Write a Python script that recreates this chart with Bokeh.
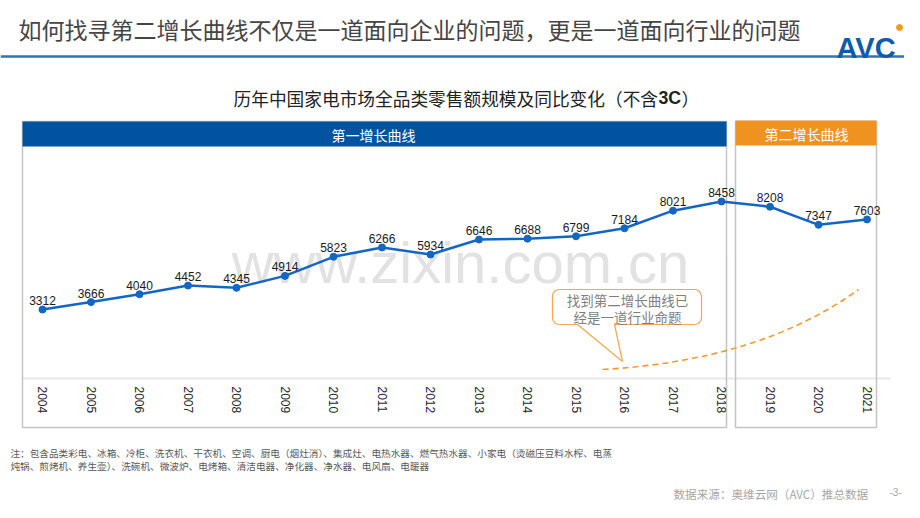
import math
from bokeh.plotting import figure
from bokeh.models import Range1d
from bokeh.core.properties import value
from bokeh.embed import file_html
from bokeh.resources import INLINE

# ---------------- data ----------------
years = [2004, 2005, 2006, 2007, 2008, 2009, 2010, 2011, 2012,
         2013, 2014, 2015, 2016, 2017, 2018, 2019, 2020, 2021]
sales = [3312, 3666, 4040, 4452, 4345, 4914, 5823, 6266, 5934,
         6646, 6688, 6799, 7184, 8021, 8458, 8208, 7347, 7603]
year_labels = [str(y) for y in years]

page_title = "如何找寻第二增长曲线不仅是一道面向企业的问题，更是一道面向行业的问题"
chart_title_a = "历年中国家电市场全品类零售额规模及同比变化（不含"
chart_title_b = "3C"
chart_title_c = "）"
band1_label = "第一增长曲线"
band2_label = "第二增长曲线"
callout_lines = ["找到第二增长曲线已", "经是一道行业命题"]
note_lines = [
    "注：包含品类彩电、冰箱、冷柜、洗衣机、干衣机、空调、厨电（烟灶消）、集成灶、电热水器、燃气热水器、小家电（烫磁压豆料水榨、电蒸",
    "炖锅、煎烤机、养生壶）、洗碗机、微波炉、电烤箱、清洁电器、净化器、净水器、电风扇、电暖器",
]
source_text = "数据来源：奥维云网（AVC）推总数据"
page_no = "-3-"
watermark = "www.zixin.com.cn"

# ---------------- geometry (page pixels -> data) ----------------
W, H = 904, 502
ORIGIN = 0
X_REF_PX, PX_PER_YEAR = 42.0, 48.5          # 2004 sits at page x=42
Y_REF_PX, PX_PER_UNIT = 309.0, 108.0 / 5146  # 3312 sits at page y=309


def fx(xp):
    return years[0] + (xp - X_REF_PX) / PX_PER_YEAR


def fy(yp):
    return sales[0] + (Y_REF_PX - yp) / PX_PER_UNIT


x_range = Range1d(fx(ORIGIN), fx(ORIGIN + W))
y_range = Range1d(fy(ORIGIN + H), fy(ORIGIN))

p = figure(width=W, height=H, x_range=x_range, y_range=y_range,
           x_axis_type=None, y_axis_type=None, min_border=0,
           output_backend="svg", toolbar_location=None)
p.grid.visible = False
p.outline_line_color = None
p.background_fill_color = "white"
p.border_fill_color = "white"

CJK = value("Noto Sans CJK SC")
LAT = value("Liberation Sans")

# page title
p.text(x=[fx(18)], y=[fy(28)], text=[page_title], text_font=CJK,
       text_font_size=value("23px"), text_color="#454545",
       text_align="left", text_baseline="middle")
p.segment(x0=[fx(0)], y0=[fy(56)], x1=[fx(920)], y1=[fy(56)],
          line_color="#2e72b8", line_width=2.5)

# logo
p.text(x=[fx(836)], y=[fy(47)], text=["AVC"], text_font=LAT,
       text_font_style="bold", text_font_size=value("29px"),
       text_color="#0b5cad", text_align="left", text_baseline="alphabetic")
p.scatter(x=[fx(899)], y=[fy(27)], size=6, color="#f39c1f")

# chart title
p.text(x=[fx(233)], y=[fy(97)], text=[chart_title_a], text_font=CJK,
       text_font_size=value("17.7px"), text_color="#222222",
       text_align="left", text_baseline="middle")
p.text(x=[fx(658)], y=[fy(97)], text=[chart_title_b], text_font=LAT,
       text_font_style="bold", text_font_size=value("17.7px"),
       text_color="#222222", text_align="left", text_baseline="middle")
p.text(x=[fx(681)], y=[fy(97)], text=[chart_title_c], text_font=CJK,
       text_font_size=value("17.7px"), text_color="#222222",
       text_align="left", text_baseline="middle")

# watermark
p.text(x=[fx(460)], y=[fy(262)], text=[watermark], text_font=LAT,
       text_font_size=value("58px"), text_color="#e2e2e2",
       text_align="center", text_baseline="alphabetic")

# baseline of the x category area
p.segment(x0=[fx(22)], y0=[fy(378)], x1=[fx(890)], y1=[fy(378)],
          line_color="#e8e8e8", line_width=2)

# frames
p.quad(left=[fx(22), fx(735)], right=[fx(726), fx(876)],
       top=[fy(121), fy(121)], bottom=[fy(427), fy(427)],
       fill_color=None, line_color="#c4c4c4", line_width=1.5)
# bands
p.quad(left=[fx(22)], right=[fx(726)], top=[fy(121)], bottom=[fy(146)],
       fill_color="#02539f", line_color=None)
p.quad(left=[fx(735)], right=[fx(876)], top=[fy(120)], bottom=[fy(145)],
       fill_color="#f0921f", line_color=None)
p.text(x=[fx(373), fx(806)], y=[fy(134), fy(133)],
       text=[band1_label, band2_label], text_font=CJK,
       text_font_size=value("14px"), text_color="white",
       text_align="center", text_baseline="middle")

# dashed "second curve"
p.quadratic(x0=[fx(602)], y0=[fy(369)], x1=[fx(858)], y1=[fy(289)],
            cx=[fx(760)], cy=[fy(360)], line_color="#f39a33",
            line_width=1.6, line_dash="6 4")

# callout bubble
L, R, T, B, r = 552, 701, 289, 324, 7
pts = []


def arc(cx, cy, a0, a1, n=6):
    for i in range(n + 1):
        a = math.radians(a0 + (a1 - a0) * i / n)
        pts.append((cx + r * math.cos(a), cy + r * math.sin(a)))


arc(L + r, T + r, 180, 270)
arc(R - r, T + r, 270, 360)
arc(R - r, B - r, 0, 90)
pts += [(614, B), (622, 361), (577, B)]
arc(L + r, B - r, 90, 180)
p.patch(x=[fx(a) for a, b in pts], y=[fy(b) for a, b in pts],
        fill_color="white", line_color="#f4a74f", line_width=1.2)
p.text(x=[fx(627), fx(627)], y=[fy(299), fy(316)], text=callout_lines,
       text_font=CJK, text_font_size=value("13.5px"), text_color="#7f7f7f",
       text_align="center", text_baseline="middle")

# data line
p.line(x=years, y=sales, line_color="#1466c4", line_width=2.5)
p.scatter(x=years, y=sales, size=7, color="#1466c4")
p.text(x=years, y=sales, text=[str(v) for v in sales], text_font=LAT,
       text_font_size=value("12px"), text_color="#1a1a1a",
       text_align="center", text_baseline="alphabetic", y_offset=-9)

# year labels (rotated)
p.text(x=years, y=[fy(386)] * len(years), text=year_labels, text_font=LAT,
       text_font_size=value("12px"), text_color="#262626", angle=-math.pi / 2,
       text_align="left", text_baseline="middle")

# footnote
p.text(x=[fx(10), fx(10)], y=[fy(452), fy(465)], text=note_lines,
       text_font=CJK, text_font_size=value("9.65px"), text_color="#595959",
       text_align="left", text_baseline="middle")

# source
p.text(x=[fx(673)], y=[fy(493)], text=[source_text], text_font=CJK,
       text_font_size=value("11.6px"), text_color="#a6a6a6",
       text_align="left", text_baseline="middle")
p.text(x=[fx(889)], y=[fy(491)], text=[page_no], text_font=LAT,
       text_font_size=value("10px"), text_color="#a6a6a6",
       text_align="left", text_baseline="middle")

open("out.html", "w").write(file_html(p, INLINE))
